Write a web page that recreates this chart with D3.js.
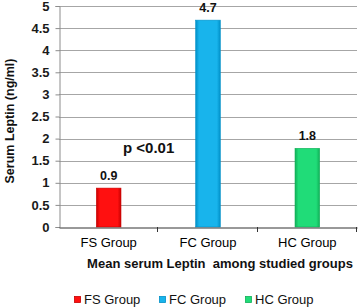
<!DOCTYPE html>
<html><head><meta charset="utf-8">
<script src="https://cdn.jsdelivr.net/npm/d3@7"></script>
<style>body{margin:0;background:#fff;} text{font-family:"Liberation Sans",Arial,sans-serif;}</style>
</head><body>
<svg id="c" width="358" height="307"></svg>
<script>
const categories = ["FS Group","FC Group","HC Group"];
const values = [0.88, 4.68, 1.78];
const valueLabels = ["0.9","4.7","1.8"];
const colors = ["#ff1010","#18b4ec","#20dc78"];
const edgeColors = ["#c80000","#0090c8","#10b058"];
const yTicks = [0,0.5,1,1.5,2,2.5,3,3.5,4,4.5,5];
const yTitle = "Serum Leptin (ng/ml)";
const xTitle = "Mean serum Leptin  among studied groups";
const annotation = "p <0.01";

const svg = d3.select("#c");
const m = {left:59, right:357, top:6, bottom:227};
const x = d3.scaleBand().domain(categories).range([m.left, m.right]).paddingInner(0.752).paddingOuter(0.376);
const y = d3.scaleLinear().domain([0,5]).range([m.bottom, m.top]);

const defs = svg.append("defs");
categories.forEach((c,i)=>{
  const g = defs.append("linearGradient").attr("id","g"+i).attr("x1","0").attr("x2","1").attr("y1","0").attr("y2","0");
  g.append("stop").attr("offset","0").attr("stop-color",edgeColors[i]);
  g.append("stop").attr("offset","0.14").attr("stop-color",colors[i]);
  g.append("stop").attr("offset","0.86").attr("stop-color",colors[i]);
  g.append("stop").attr("offset","1").attr("stop-color",edgeColors[i]);
});

// gridlines
svg.append("g").selectAll("line").data(yTicks.filter(d=>d>0)).join("line")
  .attr("x1",m.left).attr("x2",m.right).attr("y1",d=>Math.round(y(d))+0.5).attr("y2",d=>Math.round(y(d))+0.5)
  .attr("stroke","#a6a6a6").attr("stroke-width",1);

// y axis
const ya = svg.append("g").attr("transform",`translate(${m.left+0.5},0)`)
  .call(d3.axisLeft(y).tickValues(yTicks).tickSize(4).tickPadding(6).tickFormat(d=>d));
ya.select(".domain").attr("stroke","#8c8c8c");
ya.selectAll(".tick line").attr("stroke","#8c8c8c");
ya.selectAll(".tick text").attr("font-size",13).attr("font-weight","bold").attr("fill","#1a1a1a")
  .attr("font-family","Liberation Sans, Arial, sans-serif");

// bars
svg.append("g").selectAll("rect").data(categories).join("rect")
  .attr("x",d=>x(d)).attr("width",x.bandwidth())
  .attr("y",(d,i)=>y(values[i])).attr("height",(d,i)=>y(0)-y(values[i]))
  .attr("fill",(d,i)=>`url(#g${i})`).attr("stroke",(d,i)=>edgeColors[i]).attr("stroke-width",0.6);

// x axis
const xa = svg.append("g").attr("transform",`translate(0,${m.bottom+0.5})`)
  .call(d3.axisBottom(x).tickSize(0).tickPadding(10));
xa.select(".domain").attr("stroke","#333");
xa.selectAll(".tick text").attr("font-size",13).attr("fill","#000").attr("font-family","Liberation Sans, Arial, sans-serif");
svg.append("g").selectAll("line").data(categories.map(c=>x(c)+x.bandwidth()/2 + x.step()/2))
  .join("line").attr("x1",d=>Math.round(d)-0.5).attr("x2",d=>Math.round(d)-0.5)
  .attr("y1",m.bottom).attr("y2",m.bottom+5).attr("stroke","#333");

// value labels
svg.append("g").selectAll("text").data(categories).join("text")
  .attr("x",d=>x(d)+x.bandwidth()/2).attr("y",(d,i)=>y(values[i])-8)
  .attr("text-anchor","middle").attr("font-size",12.5).attr("font-weight","bold").attr("fill","#111")
  .text((d,i)=>valueLabels[i]);

// annotation
svg.append("text").attr("x",123).attr("y",153).attr("font-size",15).attr("font-weight","bold").attr("fill","#111").text(annotation);

// y title
svg.append("text").attr("transform","translate(14,121) rotate(-90)").attr("text-anchor","middle")
  .attr("font-size",12.5).attr("font-weight","bold").attr("fill","#111").text(yTitle);

// x title
svg.append("text").attr("x",220).attr("y",268).attr("text-anchor","middle").style("white-space","pre")
  .attr("font-size",13).attr("font-weight","bold").attr("fill","#111").text(xTitle);

// legend
const lx = [74,159,245];
const lg = svg.append("g").selectAll("g").data(categories).join("g").attr("transform",(d,i)=>`translate(${lx[i]},0)`);
lg.append("rect").attr("x",0.5).attr("y",296.5).attr("width",6).attr("height",6)
  .attr("fill",(d,i)=>colors[i]).attr("stroke",(d,i)=>edgeColors[i]).attr("stroke-width",0.8);
lg.append("text").attr("x",10).attr("y",304).attr("font-size",13).attr("fill","#111").text(d=>d);
</script>
</body></html>
